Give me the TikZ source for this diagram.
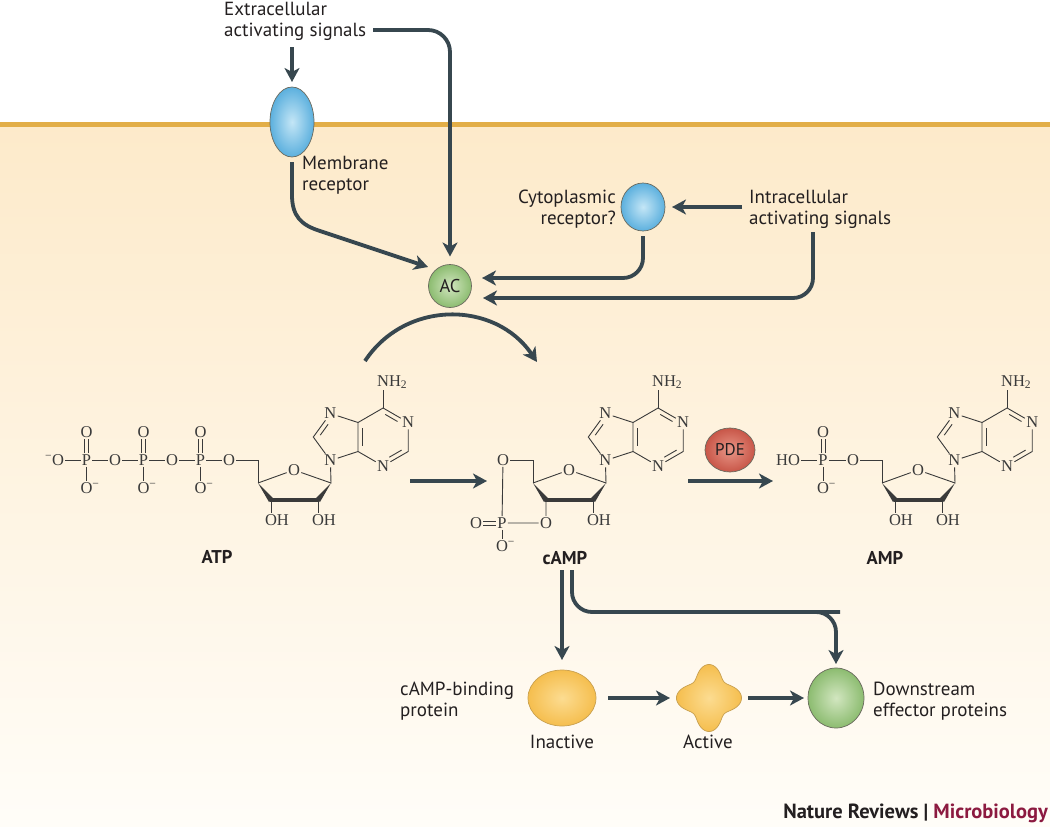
\documentclass[tikz,border=0pt]{standalone}
\usepackage{fontspec}
\setmainfont{Liberation Serif}
\newfontfamily\lab{PT Sans}
\newfontfamily\chem{Liberation Serif}
\usetikzlibrary{arrows.meta,shapes.geometric,calc}

\definecolor{arr}{HTML}{37474F}
\definecolor{memb}{HTML}{E2AE48}
\definecolor{bgtop}{HTML}{FDEACA}
\definecolor{bgmid}{HTML}{FEF4E0}
\definecolor{bgbot}{HTML}{FFFDF8}
\definecolor{chemc}{HTML}{3A3A3A}
\definecolor{txt}{HTML}{231F20}
\definecolor{micro}{HTML}{8C1A40}
\definecolor{shline}{HTML}{6A6A5E}

\tikzset{
  flow/.style={draw=arr, line width=3.8pt, -{Stealth[length=14pt,width=15pt,inset=4pt]}},
  lbl/.style={font=\lab\fontsize{19}{21}\selectfont, text=txt, inner sep=0pt},
  atom/.style={font=\chem\fontsize{16.5}{17}\selectfont, text=chemc, inner sep=1.2pt},
  bond/.style={draw=chemc, line width=0.9pt},
  bluebody/.style={draw=shline, line width=0.7pt, inner color={rgb,255:red,196;green,230;blue,246}, outer color={rgb,255:red,92;green,176;blue,222}, outer sep=0pt, inner sep=0pt},
  greenbody/.style={draw=shline, line width=0.7pt, inner color={rgb,255:red,210;green,230;blue,192}, outer color={rgb,255:red,140;green,188;blue,112}, outer sep=0pt, inner sep=0pt},
  redbody/.style={draw=shline, line width=0.7pt, inner color={rgb,255:red,232;green,150;blue,135}, outer color={rgb,255:red,200;green,86;blue,72}, outer sep=0pt, inner sep=0pt},
  yellowbody/.style={draw={rgb,255:red,200;green,160;blue,80}, line width=0.7pt, inner color={rgb,255:red,252;green,220;blue,145}, outer color={rgb,255:red,245;green,190;blue,78}, outer sep=0pt, inner sep=0pt},
}

\newcommand\nucl[3]{%
\begin{scope}[shift={(#2,#3)}]
  \coordinate (#1c4p) at (0,0);
  \node[atom] (#1o4) at (36,-13) {O};
  \coordinate (#1c1p) at (73,0);
  \coordinate (#1c2p) at (60,17);
  \coordinate (#1c3p) at (13,17);
  \node[atom] (#1n9) at (72.4,-22.5) {N};
  \coordinate (#1c8) at (55.3,-46);
  \node[atom] (#1n7) at (72.4,-69.5) {N};
  \coordinate (#1c5) at (100,-60.5);
  \coordinate (#1c4) at (100,-31.5);
  \coordinate (#1c6) at (125.1,-75);
  \node[atom] (#1n1) at (150.2,-60.5) {N};
  \coordinate (#1c2) at (150.2,-31.5);
  \node[atom] (#1n3) at (125.1,-17) {N};
  \node[atom] (#1nh) at (125.1,-101) {N\rlap{H\textsubscript{2}}};
  \node[atom] (#1oh2) at (60,37) {O\rlap{H}};
  \draw[bond] (#1c4p) -- (#1o4) -- (#1c1p) -- (#1n9) -- (#1c8) -- (#1n7) -- (#1c5) -- (#1c4) -- (#1n9);
  \draw[bond] (#1c5) -- (#1c6) -- (#1n1) -- (#1c2) -- (#1n3) -- (#1c4);
  \draw[bond] (#1c6) -- (#1nh);
  \draw[bond] (#1c2p) -- (#1oh2);
  % inner double-bond lines
  \draw[bond] (104.5,-55) -- (104.5,-37);
  \draw[bond] (127.2,-68.6) -- (139.5,-61.5);
  \draw[bond] (143.6,-32.9) -- (131.3,-25.8);
  \draw[bond] (62.2,-47.8) -- (70.1,-58.7);
  % wedges and bold bond
  \fill[chemc] (0,0) -- (15.2,15.4) -- (11,19) -- cycle;
  \fill[chemc] (73,0) -- (62,19) -- (57.8,15.4) -- cycle;
  \draw[chemc, line width=4pt] (12,17) -- (61,17);
\end{scope}}

\begin{document}
\begin{tikzpicture}[x=1pt,y=-1pt]
\useasboundingbox (0,0) rectangle (1050,827);
\fill[white] (0,0) rectangle (1050,827);
\shade[top color=bgtop, middle color=bgmid, bottom color=bgbot] (0,124) rectangle (1050,827);
\draw[memb, line width=5pt] (0,124.5) -- (1050,124.5);

% ---------- top part ----------
\node[lbl, align=left, anchor=west] (ext) at (224,21) {Extracellular\\activating signals};
\node[ellipse, bluebody, minimum width=44pt, minimum height=70pt] (mr) at (292,122) {};
\node[lbl, align=left, anchor=west] (mrl) at (302,175) {Membrane\\receptor};
\node[circle, greenbody, minimum size=43pt, font=\lab\fontsize{18.5}{20}\selectfont, text=txt] (ac) at (450,286) {AC};
\node[ellipse, bluebody, minimum width=44pt, minimum height=48pt] (cy) at (643,207) {};
\node[lbl, align=right, anchor=east] (cyl) at (616,209) {Cytoplasmic\\receptor?};
\node[lbl, align=left, anchor=west] (inl) at (749,209) {Intracellular\\activating signals};

\coordinate (ext-d) at (292,47);
\coordinate (ext-r) at (373,30);
\coordinate (mr-out) at (292,162);
\coordinate (ac-in1) at (428,267);
\coordinate (ac-in2) at (482,278);
\coordinate (ac-in3) at (483,298);
\coordinate (in-l) at (742,207);
\coordinate (in-d) at (813,232);

\draw[flow, shorten >=5pt] (ext-d) -- (mr.north);
\draw[flow, rounded corners=22pt] (ext-r) -| ([yshift=8pt]ac.north);
\draw[flow] (mr-out) -- (292,195) .. controls (292,216) and (301,225) .. (320,231) -- (ac-in1);
\draw[flow, shorten >=7pt] (in-l) -- (cy.east);
\draw[flow, rounded corners=20pt, shorten <=5pt] (cy.south) |- (ac-in2);
\draw[flow, rounded corners=20pt] (in-d) |- (ac-in3);

% ---------- molecules ----------
% ATP
\nucl{a}{258}{483}
\node[atom] (aoh3) at (271,520) {O\rlap{H}};
\draw[bond] (ac3p) -- (aoh3);
\coordinate (ac5p) at (258,460);
\node[atom] (ao5) at (229,460) {O};
\node[atom] (ap3) at (200.5,460) {P};
\node[atom] (aob3) at (172,460) {O};
\node[atom] (ap2) at (143.5,460) {P};
\node[atom] (aob2) at (115,460) {O};
\node[atom] (ap1) at (86.5,460) {P};
\node[atom] (aom) at (58,460) {\llap{\textsuperscript{−}}O};
\foreach \i/\xx in {1/86.5,2/143.5,3/200.5}{
  \node[atom] (apt\i) at (\xx,432) {O};
  \node[atom] (apb\i) at (\xx,488) {O\rlap{\textsuperscript{−}}};
  \draw[bond] ([xshift=-2pt]ap\i.north) -- ([xshift=-2pt]apt\i.south);
  \draw[bond] ([xshift=2pt]ap\i.north) -- ([xshift=2pt]apt\i.south);
  \draw[bond] (ap\i) -- (apb\i);
}
\draw[bond] (aom) -- (ap1) -- (aob2) -- (ap2) -- (aob3) -- (ap3) -- (ao5) -- (ac5p) -- (ac4p);
\node[font=\lab\bfseries\fontsize{18.5}{20}\selectfont, text=txt] (atp) at (217,557) {ATP};

% cAMP
\nucl{c}{533}{483}
\coordinate (cc5p) at (533,460);
\node[atom] (co5) at (503,460) {O};
\node[atom] (cp) at (502,523) {P};
\node[atom] (co3) at (546,523) {O};
\node[atom] (coe) at (476,523) {O};
\node[atom] (com) at (502,546) {O\rlap{\textsuperscript{−}}};
\draw[bond] (co5) -- (cc5p) -- (cc4p);
\draw[bond] (co5) -- (cp) -- (co3) -- (cc3p);
\draw[bond] (cp) -- (com);
\draw[bond] ([yshift=2pt]coe.east) -- ([yshift=2pt]cp.west);
\draw[bond] ([yshift=-2pt]coe.east) -- ([yshift=-2pt]cp.west);
\node[font=\lab\bfseries\fontsize{18.5}{20}\selectfont, text=txt] (camp) at (565,558) {cAMP};

% AMP
\nucl{m}{882}{483}
\node[atom] (moh3) at (895,520) {O\rlap{H}};
\draw[bond] (mc3p) -- (moh3);
\coordinate (mc5p) at (882,460);
\node[atom] (mo5) at (853,460) {O};
\node[atom] (mp) at (823,460) {P};
\node[atom] (mho) at (794,460) {\llap{H}O};
\node[atom] (mpt) at (823,432) {O};
\node[atom] (mpb) at (823,488) {O\rlap{\textsuperscript{−}}};
\draw[bond] ([xshift=-2pt]mp.north) -- ([xshift=-2pt]mpt.south);
\draw[bond] ([xshift=2pt]mp.north) -- ([xshift=2pt]mpt.south);
\draw[bond] (mp) -- (mpb);
\draw[bond] (mho) -- (mp) -- (mo5) -- (mc5p) -- (mc4p);
\node[font=\lab\bfseries\fontsize{18.5}{20}\selectfont, text=txt] (amp) at (885,558) {AMP};

% reaction arrows
\coordinate (r1s) at (410,481);
\coordinate (r1e) at (487,481);
\coordinate (r2s) at (688,481);
\coordinate (r2e) at (773,481);
\coordinate (cv1) at (365,361);
\coordinate (cv2) at (537,362);
\draw[flow] (r1s) -- (r1e);
\draw[flow] (r2s) -- (r2e);
\draw[flow] (cv1) .. controls (405,300) and (495,300) .. (cv2);
\node[ellipse, redbody, minimum width=50pt, minimum height=44pt, font=\lab\fontsize{17}{18}\selectfont, text=txt] (pde) at (730,450) {PDE};

% ---------- bottom part ----------
\node[ellipse, yellowbody, minimum width=68pt, minimum height=56pt] (inact) at (562,698) {};
\node[circle, minimum size=64pt, inner sep=0pt, outer sep=0pt] (act) at (709,698) {};
\shade[yellowbody] plot[domain=0:358, samples=180] ({709+(27+5.5*cos(4*\x))*cos(\x)}, {698+(28+5.5*cos(4*\x))*sin(\x)}) -- cycle;
\node[ellipse, greenbody, minimum width=56pt, minimum height=60pt] (down) at (836,698) {};

\node[lbl, align=left, anchor=west] (cbl) at (400,701) {cAMP-binding\\protein};
\node[lbl, align=left, anchor=west] (dsl) at (873,701) {Downstream\\effector proteins};
\node[lbl] (inal) at (562,742) {Inactive};
\node[lbl] (actl) at (708,742) {Active};

\coordinate (cd1) at (562,570);
\coordinate (cd2) at (572,570);
\draw[flow, shorten >=10pt] (cd1) -- (inact.north);
\draw[flow, rounded corners=20pt] (cd2) |- (820,612) -| ([yshift=4pt]down.north);
\draw[flow, shorten <=12pt, shorten >=7pt] (inact.east) -- (act.west);
\draw[flow, shorten <=7pt, shorten >=4pt] (act.east) -- (down.west);

\node[font=\lab\bfseries\fontsize{20.5}{22}\selectfont, text=txt, anchor=east, inner sep=0pt] (nr) at (1048,813) {Nature Reviews | \textcolor{micro}{Microbiology}};
\end{tikzpicture}
\end{document}
